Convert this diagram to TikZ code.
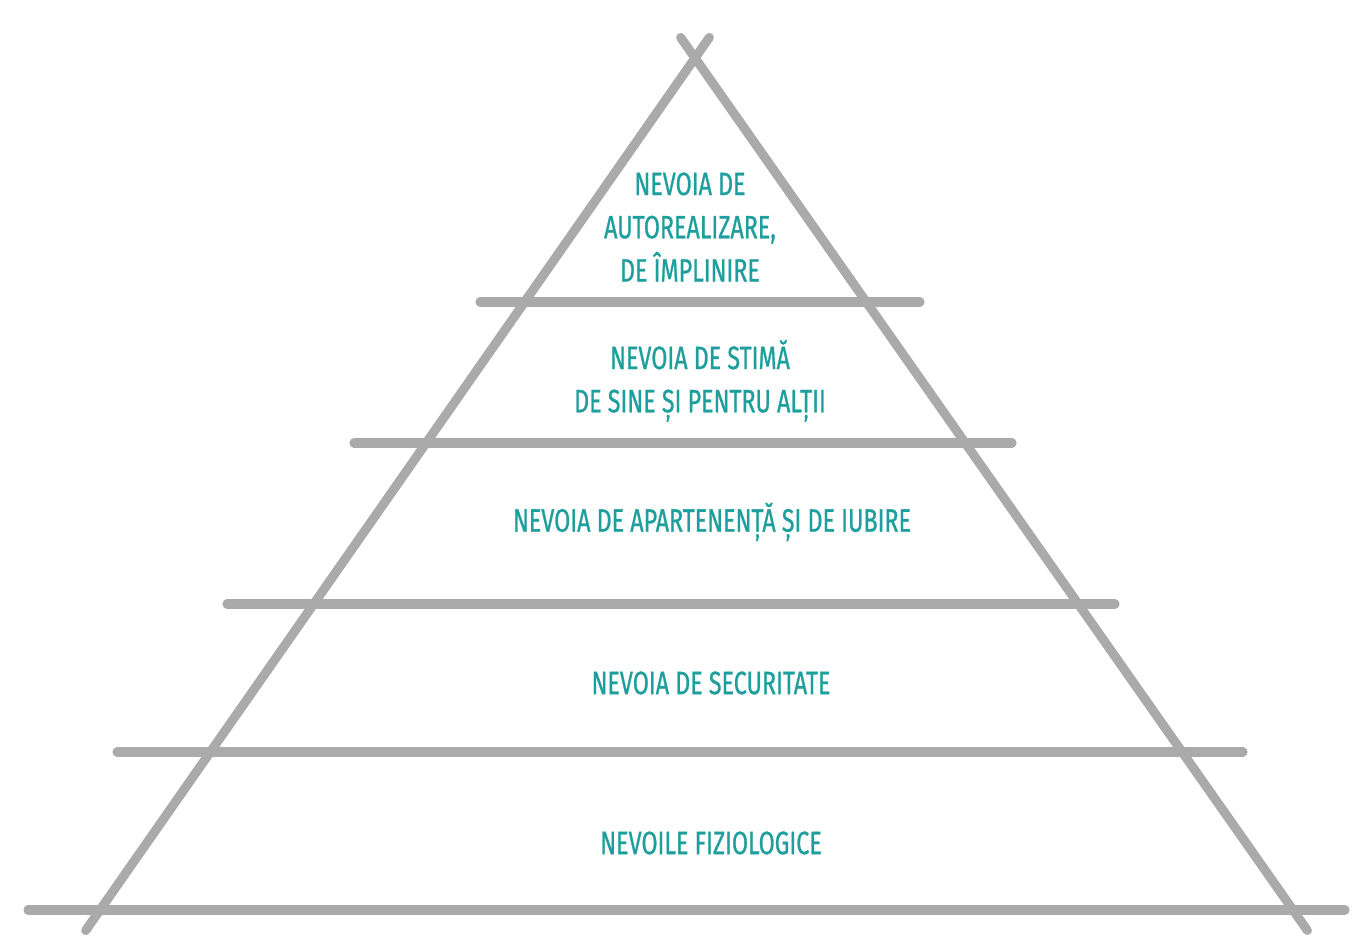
\documentclass[tikz,border=0pt]{standalone}
\usepackage{fontspec}
\usepackage{xcolor}
\usepackage{tikz}
\usetikzlibrary{positioning,calc}
\newfontfamily\levelfont[FakeStretch=0.72,FakeBold=0.8]{Fira Sans}
\definecolor{chalk}{RGB}{170,170,170}
\definecolor{nvteal}{RGB}{30,158,156}

\begin{document}
\begin{tikzpicture}[x=1cm,y=1cm]
            \tikzstyle{edge}=[draw=chalk,line width=2.6pt,line cap=round]
            \tikzstyle{level}=[text=nvteal,font=\levelfont\fontsize{9.2}{12.3}\selectfont,align=center,inner sep=0pt]
            \useasboundingbox (0,0) rectangle (13.58,9.39);
            % corners
            \coordinate (apex) at (6.95,8.81);
            \coordinate (bl) at (1.00,0.29);
            \coordinate (br) at (12.93,0.29);
            % sides
            \draw[edge,shorten <=-0.25cm,shorten >=-0.25cm] (bl) -- (apex);
            \draw[edge,shorten <=-0.25cm,shorten >=-0.25cm] (br) -- (apex);
            % shelves
            \coordinate (s1l) at (4.80,6.37); \coordinate (s1r) at (9.20,6.37);
            \coordinate (s2l) at (3.54,4.96); \coordinate (s2r) at (10.12,4.96);
            \coordinate (s3l) at (2.27,3.35); \coordinate (s3r) at (11.15,3.35);
            \coordinate (s4l) at (1.17,1.87); \coordinate (s4r) at (12.43,1.87);
            \coordinate (s5l) at (0.28,0.29); \coordinate (s5r) at (13.45,0.29);
            \foreach \s in {1,...,5}
                \draw[edge] (s\s l) -- (s\s r);
            % levels
            \node[level] (self) at (6.90,7.12) {NEVOIA DE\\AUTOREALIZARE,\\DE ÎMPLINIRE};
            \node[level] (esteem) at (7.00,5.58) {NEVOIA DE STIMĂ\\DE SINE ȘI PENTRU ALȚII};
            \node[level] (love) at (7.12,4.17) {NEVOIA DE APARTENENȚĂ ȘI DE IUBIRE};
            \node[level] (safety) at (7.11,2.56) {NEVOIA DE SECURITATE};
            \node[level] (body) at (7.11,0.96) {NEVOILE FIZIOLOGICE};
\end{tikzpicture}
\end{document}
